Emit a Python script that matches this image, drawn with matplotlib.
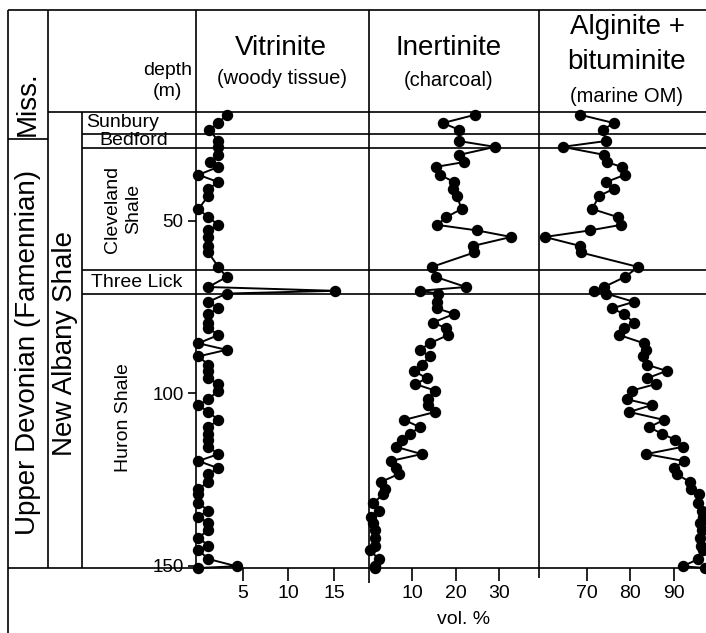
import matplotlib
matplotlib.use("Agg")
import matplotlib.pyplot as plt

plt.rcParams['font.family'] = ['Liberation Sans', 'DejaVu Sans']

# sample depths (m) and maceral contents (vol. %)
depth = [19.3, 21.7, 23.7, 26.9, 28.6, 30.9, 33.0, 34.4, 36.7, 38.8,
         40.8, 42.8, 46.6, 49.0, 51.2, 52.8, 54.7, 57.3, 59.2, 63.4,
         66.3, 69.2, 70.3, 71.1, 73.5, 75.4, 77.0, 79.5, 81.1, 83.1,
         85.5, 87.4, 89.3, 91.7, 93.5, 95.7, 97.3, 99.2, 101.7, 103.4,
         105.4, 107.7, 109.8, 111.7, 113.4, 115.5, 117.6, 119.6, 121.7, 123.4,
         125.7, 127.7, 129.3, 131.8, 134.0, 135.7, 137.6, 139.6, 141.8, 144.1,
         145.4, 148.0, 150.1, 150.6]

vitrinite = [3.2, 2.3, 1.3, 2.3, 2.3, 2.3, 1.4, 2.3, 0.1, 2.3,
             1.2, 1.2, 0.1, 1.2, 2.3, 1.2, 1.2, 1.2, 1.2, 2.3,
             3.2, 1.2, 15.1, 3.2, 1.2, 2.3, 1.2, 1.2, 1.2, 2.3,
             0.1, 3.2, 0.1, 1.2, 1.2, 1.2, 2.3, 2.3, 1.2, 0.1,
             1.2, 2.3, 1.2, 1.2, 1.2, 1.2, 2.3, 0.1, 2.3, 1.2,
             1.2, 0.1, 0.1, 0.1, 1.2, 0.1, 1.2, 1.2, 0.1, 1.2,
             0.1, 1.2, 4.3, 0.1]

inertinite = [24.5, 17.1, 20.9, 20.7, 29.1, 20.9, 22.0, 15.5, 16.4, 19.7,
              19.5, 20.3, 21.4, 17.8, 15.8, 24.9, 32.8, 24.0, 24.3, 14.5,
              15.5, 22.4, 11.8, 16.0, 15.7, 15.8, 19.7, 14.8, 17.8, 18.3,
              14.1, 11.8, 14.1, 12.2, 10.5, 13.4, 10.7, 15.3, 13.7, 13.7,
              15.3, 8.2, 11.8, 9.5, 7.6, 6.3, 12.2, 5.1, 6.3, 6.9,
              2.8, 3.8, 3.4, 1.0, 2.3, 0.5, 1.1, 1.5, 1.5, 1.5,
              0.3, 2.3, 1.5, 1.5]

alginite = [68.4, 76.2, 73.6, 74.4, 64.4, 73.9, 74.5, 78.0, 78.7, 74.4,
            76.1, 72.8, 71.2, 77.2, 77.8, 70.7, 60.3, 68.4, 68.6, 81.8,
            78.7, 73.9, 71.5, 74.4, 80.8, 75.7, 78.5, 80.8, 78.5, 77.4,
            83.1, 83.6, 82.8, 83.7, 88.3, 83.7, 85.9, 80.3, 79.1, 84.9,
            79.7, 87.7, 84.3, 87.2, 90.2, 92.0, 83.6, 92.3, 90.0, 90.6,
            93.7, 93.8, 95.8, 95.6, 96.4, 96.6, 96.0, 96.4, 96.0, 96.1,
            96.6, 95.6, 92.0, 97.1]

# formation boundaries (m) and labels
boundaries = [24.8, 28.9, 64.4, 71.2]
depth_top, depth_bot = 18.5, 150.6
depth_ticks = [50, 100, 150]

W, H = 706, 633
fig = plt.figure(figsize=(W / 100, H / 100), dpi=100)


def box(x0, x1, y0, y1):
    return [x0 / W, 1 - y1 / H, (x1 - x0) / W, (y1 - y0) / H]


LW = 1.2

# frame / header overlay in pixel coords
ov = fig.add_axes([0, 0, 1, 1], zorder=0)
ov.set_xlim(0, W)
ov.set_ylim(H, 0)
ov.axis('off')
ov.patch.set_visible(False)
frame = [((8, 706), (10, 10)), ((8, 8), (10, 633)), ((8, 706), (568, 568)),
         ((48, 48), (10, 568)), ((8, 48), (139, 139)), ((48, 706), (112, 112)),
         ((82, 82), (112, 568)), ((196, 196), (10, 568)),
         ((369, 369), (10, 583)), ((539, 539), (10, 578))]
for xs, ys in frame:
    ov.plot(xs, ys, color='k', lw=LW, solid_capstyle='butt')

ov.text(28, 104, 'Miss.', rotation=90, ha='center', va='center', fontsize=20)
ov.text(28, 352, 'Upper Devonian (Famennian)', rotation=90, ha='center', va='center', fontsize=20)
ov.text(65, 343, 'New Albany Shale', rotation=90, ha='center', va='center', fontsize=20)
ov.text(192, 81, 'depth\n(m)', ha='right', va='center', multialignment='center',
        fontsize=14, linespacing=1.3)
ov.text(281, 48, 'Vitrinite', ha='center', va='center', fontsize=20)
ov.text(282, 79, '(woody tissue)', ha='center', va='center', fontsize=14.5)
ov.text(449, 48, 'Inertinite', ha='center', va='center', fontsize=20)
ov.text(449, 80, '(charcoal)', ha='center', va='center', fontsize=14.5)
ov.text(627, 27, 'Alginite +', ha='center', va='center', fontsize=20)
ov.text(627, 62, 'bituminite', ha='center', va='center', fontsize=20)
ov.text(627, 97, '(marine OM)', ha='center', va='center', fontsize=14.5)
ov.text(464, 620, 'vol. %', ha='center', va='center', fontsize=14)

# stratigraphic column
st = fig.add_axes(box(82, 196, 112, 568), zorder=1)
st.set_ylim(depth_bot, depth_top)
st.set_xlim(0, 1)
st.axis('off')
for b in boundaries:
    st.axhline(b, color='k', lw=LW)
st.text(0.035, (depth_top + boundaries[0]) / 2, 'Sunbury', ha='left', va='center', fontsize=14)
st.text(0.45, (boundaries[0] + boundaries[1]) / 2, 'Bedford', ha='center', va='center', fontsize=14)
st.text(0.36, (boundaries[1] + boundaries[2]) / 2, 'Cleveland\nShale', rotation=90,
        ha='center', va='center', multialignment='center', fontsize=14, linespacing=1.35)
st.text(0.48, (boundaries[2] + boundaries[3]) / 2, 'Three Lick', ha='center', va='center', fontsize=14)
st.text(0.36, 107, 'Huron Shale', rotation=90, ha='center', va='center', fontsize=14)

panels = [
    (box(196, 369, 112, 568), vitrinite, (-0.16, 18.85), [5, 10, 15]),
    (box(369, 539, 112, 568), inertinite, (0.1, 39.2), [10, 20, 30]),
    (box(539, 706, 112, 568), alginite, (58.97, 97.36), [70, 80, 90]),
]
for i, (pos, vals, xl, ticks) in enumerate(panels):
    ax = fig.add_axes(pos, zorder=2)
    ax.patch.set_visible(False)
    for s in ax.spines.values():
        s.set_visible(False)
    for b in boundaries:
        ax.axhline(b, color='k', lw=LW, zorder=1)
    ax.plot(vals, depth, color='k', lw=1.4, marker='o', ms=7.2, clip_on=False, zorder=3)
    ax.set_xlim(xl)
    ax.set_ylim(depth_bot, depth_top)
    ax.set_xticks(ticks)
    ax.tick_params(axis='x', direction='out', length=9.5, width=LW, labelsize=14, pad=3)
    if i == 0:
        ax.set_yticks(depth_ticks)
        ax.tick_params(axis='y', direction='out', length=6, width=LW, labelsize=13.5, pad=3)
    else:
        ax.set_yticks([])

fig.savefig('out.png', dpi=100)
